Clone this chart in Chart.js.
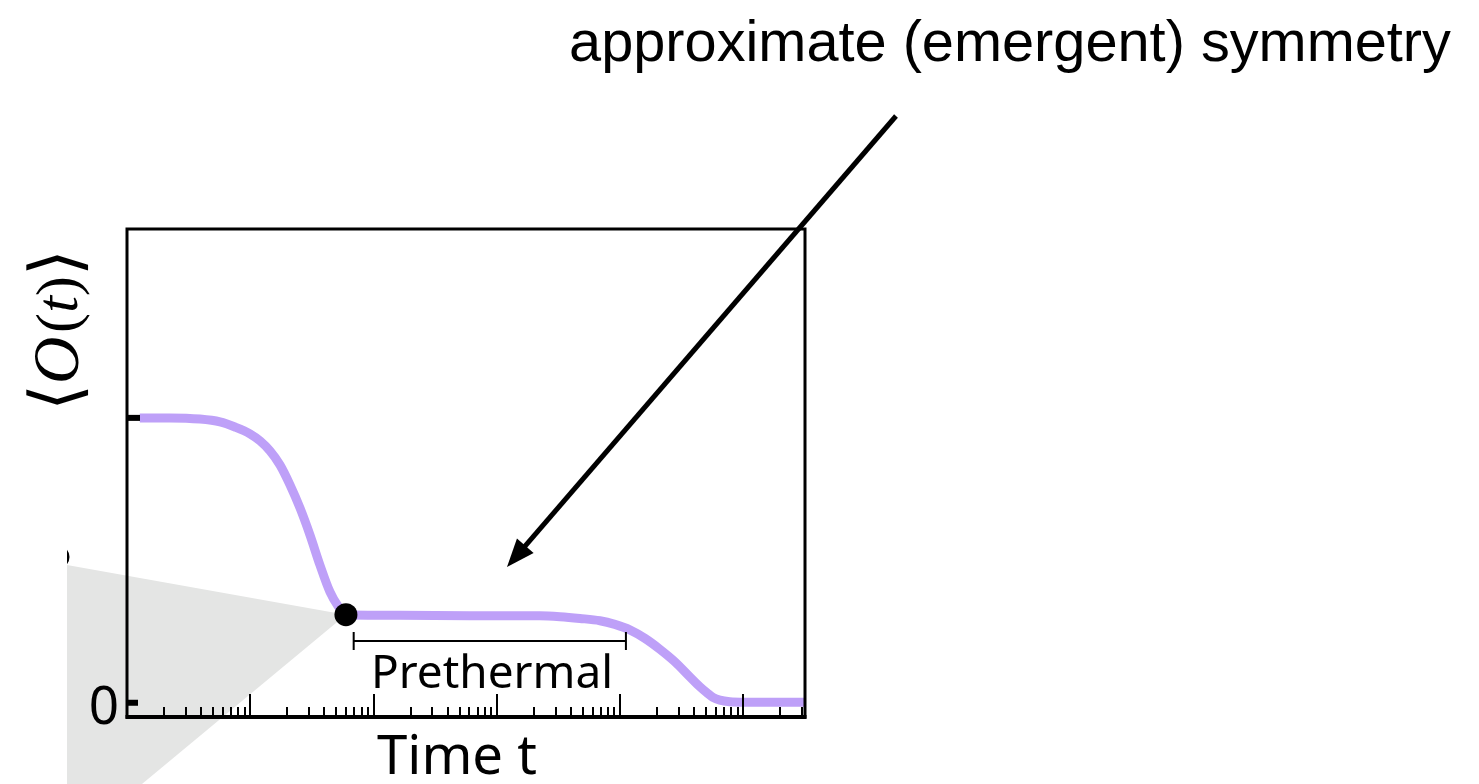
<!DOCTYPE html>
<html>
<head>
<meta charset="utf-8">
<script src="https://cdn.jsdelivr.net/npm/chart.js@4/dist/chart.umd.min.js"></script>
<style>
  body { margin: 0; background: #fff; }
  #wrap { width: 1479px; height: 784px; }
</style>
</head>
<body>
<div id="wrap"><canvas id="chart" width="1479" height="784"></canvas></div>
<script>
// curve: time (log axis) and <O(t)>
const times  = [1.27, 2.23, 3.91, 5.68, 7.51, 9.94, 12.0, 14.45, 17.4, 21.0, 25.3, 30.5, 36.7, 44.3, 51.4, 59.7,
                164, 605, 2237, 3250, 4720, 6860, 9070, 12000, 15900, 21000, 27800, 36800, 44400, 50600, 56600, 64500, 77600, 102800, 316000];
const values = [1.0, 1.0, 0.996, 0.986, 0.968, 0.944, 0.919, 0.884, 0.835, 0.765, 0.684, 0.589, 0.484, 0.389, 0.340, 0.309,
                0.307, 0.305, 0.305, 0.302, 0.296, 0.288, 0.275, 0.256, 0.226, 0.188, 0.144, 0.091, 0.056, 0.035, 0.019, 0.009, 0.0035, 0.002, 0.002];

// the black marker where the prethermal plateau begins
const dotTime = [59.7];
const dotValue = [0.309];

// prethermal window (time units)
const prethermal = [69, 11150];

// y ticks: marked levels, only 0 is labelled
const yMarks = [0, 1];
const yTickLabels = ['0', ''];

const title = 'approximate (emergent) symmetry';
const xTitle = 'Time t';
const bracketLabel = 'Prethermal';

const purple = '#bea0f8';

function fitSize(ctx, text, family, width) {
  ctx.font = '100px ' + family;
  return 100 * width / ctx.measureText(text).width;
}

const decor = {
  id: 'decor',
  beforeDatasetsDraw(chart) {
    const ctx = chart.ctx;
    const x = chart.scales.x, y = chart.scales.y;
    const px = x.getPixelForValue(dotTime[0]);
    const py = y.getPixelForValue(dotValue[0]);
    ctx.save();
    // grey cone coming in from the left (cropped figure)
    ctx.fillStyle = '#e4e5e4';
    ctx.beginPath();
    ctx.moveTo(67, 565);
    ctx.lineTo(px, py);
    ctx.lineTo(142, 784);
    ctx.lineTo(67, 784);
    ctx.closePath();
    ctx.fill();
    // cropped black dot at the far left
    ctx.beginPath();
    ctx.rect(67, 0, 40, 784);
    ctx.clip();
    ctx.fillStyle = '#000';
    ctx.beginPath();
    ctx.arc(58, 557, 11.5, 0, Math.PI * 2);
    ctx.fill();
    ctx.restore();
  },
  afterDatasetsDraw(chart) {
    const ctx = chart.ctx;
    const a = chart.chartArea;
    const x = chart.scales.x, y = chart.scales.y;
    ctx.save();
    ctx.strokeStyle = '#000';
    ctx.fillStyle = '#000';

    // frame
    ctx.lineWidth = 3;
    ctx.strokeRect(a.left, a.top, a.right - a.left, a.bottom - a.top);
    ctx.lineWidth = 4;
    ctx.beginPath();
    ctx.moveTo(a.left - 1.5, a.bottom);
    ctx.lineTo(a.right + 1.5, a.bottom);
    ctx.stroke();

    // log ticks pointing inward
    ctx.lineWidth = 2;
    for (let d = 0; d <= 5; d++) {
      for (let k = 1; k <= 9; k++) {
        const t = k * Math.pow(10, d);
        if (t <= x.min || t >= x.max) continue;
        const p = Math.round(x.getPixelForValue(t));
        const len = k === 1 ? 23 : 10;
        ctx.beginPath();
        ctx.moveTo(p, a.bottom);
        ctx.lineTo(p, a.bottom - len);
        ctx.stroke();
      }
    }

    // y marks
    yMarks.forEach((v, i) => {
      const p = y.getPixelForValue(v);
      ctx.fillRect(a.left, p - 3, i === 0 ? 11 : 13, 6);
      if (yTickLabels[i]) {
        ctx.font = '53px "Noto Sans"';
        ctx.textAlign = 'right';
        ctx.textBaseline = 'alphabetic';
        ctx.fillText(yTickLabels[i], a.left - 8, p + 21);
      }
    });

    // y title <O(t)>
    ctx.save();
    ctx.translate(58, 330);
    ctx.rotate(-Math.PI / 2);
    ctx.textBaseline = 'middle';
    const parts = [
      ['⟨', 76, '"DejaVu Serif"', '', 0],
      ['O', 72, '"Liberation Serif"', 'italic ', 4],
      ['(', 66, '"Liberation Serif"', '', 0],
      ['t', 66, '"Liberation Serif"', 'italic ', 0],
      [')', 66, '"Liberation Serif"', '', 0],
      ['⟩', 76, '"DejaVu Serif"', '', 0]
    ];
    let total = 0;
    parts.forEach(pp => { ctx.font = pp[3] + pp[1] + 'px ' + pp[2]; total += ctx.measureText(pp[0]).width + pp[4]; });
    const k = 162 / total;
    let cx = -81;
    ctx.textAlign = 'left';
    parts.forEach(pp => {
      ctx.font = pp[3] + (pp[1] * k) + 'px ' + pp[2];
      ctx.fillText(pp[0], cx, 3);
      cx += ctx.measureText(pp[0]).width + pp[4] * k;
    });
    ctx.restore();

    // x title
    ctx.textAlign = 'center';
    ctx.textBaseline = 'alphabetic';
    let s = fitSize(ctx, xTitle, '"Noto Sans"', 160);
    ctx.font = s + 'px "Noto Sans"';
    ctx.fillText(xTitle, 457, 774);

    // prethermal bracket
    const b0 = x.getPixelForValue(prethermal[0]);
    const b1 = x.getPixelForValue(prethermal[1]);
    const by = 641;
    ctx.lineWidth = 2;
    ctx.beginPath();
    ctx.moveTo(b0, by); ctx.lineTo(b1, by);
    ctx.moveTo(b0, by - 9); ctx.lineTo(b0, by + 9);
    ctx.moveTo(b1, by - 9); ctx.lineTo(b1, by + 9);
    ctx.stroke();
    s = fitSize(ctx, bracketLabel, '"Noto Sans"', 242);
    ctx.font = s + 'px "Noto Sans"';
    ctx.fillText(bracketLabel, 492, 688);

    // title
    s = fitSize(ctx, title, '"Liberation Sans"', 882);
    ctx.font = s + 'px "Liberation Sans"';
    ctx.fillText(title, 1010, 61);

    // arrow
    const x0 = 896, y0 = 116, x1 = 507, y1 = 567;
    const ang = Math.atan2(y1 - y0, x1 - x0);
    const hl = 28, hw = 11;
    const bx = x1 - hl * Math.cos(ang), byy = y1 - hl * Math.sin(ang);
    ctx.lineWidth = 5;
    ctx.beginPath();
    ctx.moveTo(x0, y0);
    ctx.lineTo(bx + 4 * Math.cos(ang), byy + 4 * Math.sin(ang));
    ctx.stroke();
    ctx.beginPath();
    ctx.moveTo(x1, y1);
    ctx.lineTo(bx - hw * Math.sin(ang), byy + hw * Math.cos(ang));
    ctx.lineTo(bx + hw * Math.sin(ang), byy - hw * Math.cos(ang));
    ctx.closePath();
    ctx.fill();

    ctx.restore();
  }
};

new Chart(document.getElementById('chart'), {
  type: 'line',
  data: {
    datasets: [
      {
        data: times.map((t, i) => ({ x: t, y: values[i] })),
        borderColor: purple,
        borderWidth: 9,
        pointRadius: 0,
        cubicInterpolationMode: 'monotone',
        borderCapStyle: 'butt',
        borderJoinStyle: 'round',
        order: 2
      },
      {
        type: 'scatter',
        data: dotTime.map((t, i) => ({ x: t, y: dotValue[i] })),
        pointRadius: 11.5,
        pointBackgroundColor: '#000',
        pointBorderWidth: 0,
        order: 1
      }
    ]
  },
  options: {
    responsive: false,
    animation: false,
    devicePixelRatio: 1,
    layout: { padding: { left: 127, right: 674, top: 229, bottom: 67 } },
    scales: {
      x: { type: 'logarithmic', min: 1, max: 316228, display: false },
      y: { type: 'linear', min: -0.05, max: 1.663, display: false }
    },
    plugins: {
      legend: { display: false },
      tooltip: { enabled: false }
    }
  },
  plugins: [decor]
});
</script>
</body>
</html>
